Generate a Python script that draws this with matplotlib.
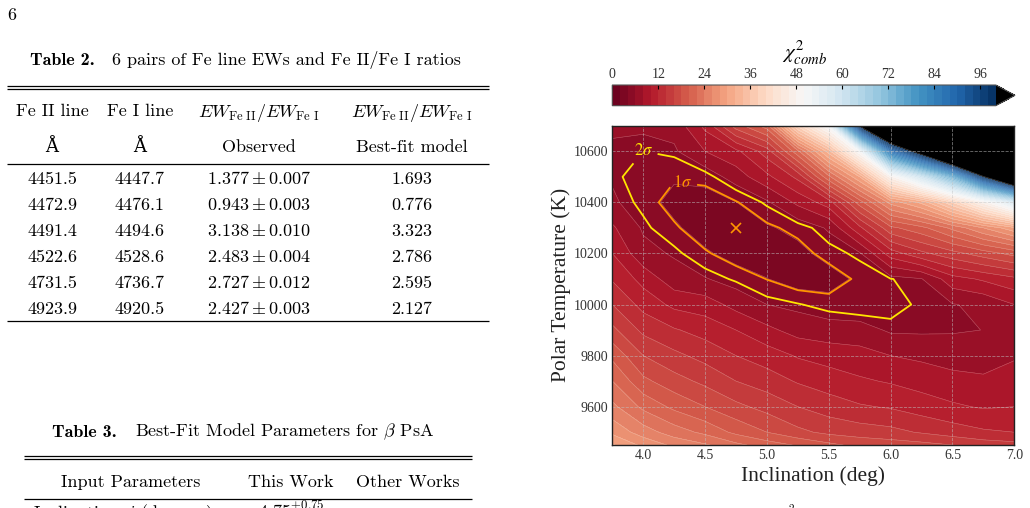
import numpy as np
import matplotlib
matplotlib.use('Agg')
import matplotlib.pyplot as plt

plt.rcParams['font.family'] = 'Liberation Serif'
plt.rcParams['mathtext.fontset'] = 'stix'

# Table 2: Fe line pairs
fe2_line = ['4451.5', '4472.9', '4491.4', '4522.6', '4731.5', '4923.9']
fe1_line = ['4447.7', '4476.1', '4494.6', '4528.6', '4736.7', '4920.5']
ratio_obs = [1.377, 0.943, 3.138, 2.483, 2.727, 2.427]
ratio_err = [0.007, 0.003, 0.010, 0.004, 0.012, 0.003]
ratio_model = [1.693, 0.776, 3.323, 2.786, 2.595, 2.127]

# Table 3 header
table3_cols = ['Input Parameters', 'This Work', 'Other Works']

# chi2 grid: rows = polar temperature, columns = inclination
incl = [3.75, 4.0, 4.25, 4.5, 4.75, 5.0, 5.25, 5.5, 5.75, 6.0, 6.25, 6.5, 6.75, 7.0]
temp = [9400, 9500, 9600, 9700, 9800, 9900, 10000, 10100, 10200, 10300,
        10400, 10500, 10600, 10700, 10800]
chi2 = [
    [33, 30, 28, 27, 25.5, 24, 23, 21.5, 20, 19.5, 19.5, 19, 18, 17.4],
    [27.5, 25, 23, 21.5, 19.5, 18, 16.5, 15.5, 15, 14.6, 13.8, 13, 12.3, 12],
    [24.5, 21.5, 19.5, 18, 16.5, 15.3, 14, 13, 12.2, 11.8, 11, 10.3, 9.8, 10],
    [22, 18.5, 16.8, 15.5, 14, 13, 11.8, 11, 10.3, 9.8, 9.2, 8.6, 8.3, 8.8],
    [19.5, 16, 14.5, 13.3, 12, 11, 9.8, 9.2, 8.7, 8.0, 7.6, 7.2, 7.2, 7.8],
    [16.5, 13.5, 12.2, 11.2, 10, 8.5, 7.2, 6.8, 6.84, 5.71, 5.7, 5.8, 6.02, 7.0],
    [14, 11.3, 9.5, 9.0, 7.3, 6.0, 5.5, 4.88, 4.4, 5.0, 5.6, 5.9, 6.4, 8.0],
    [11.8, 9.3, 6.85, 6.13, 5.17, 4.05, 3.0, 3.0, 4.5, 5.35, 5.9, 9.2, 10.3, 11.5],
    [10, 6.6, 5.79, 4.35, 3.07, 2.8, 3.3, 4.83, 5.77, 11, 13.5, 15.3, 17, 18.7],
    [8.3, 5.75, 4.4, 2.8, 2.6, 3.7, 4.68, 6.25, 11.5, 17.5, 19.4, 22.5, 26, 29.5],
    [6.3, 5.0, 3.2, 2.9, 3.95, 5.7, 8.5, 11, 19, 26.7, 30.5, 38, 47, 57],
    [5.8, 4.6, 4.33, 4.75, 6.95, 9.5, 12.5, 21.5, 30, 47, 59, 74, 99, 123],
    [5.7, 5.4, 5.72, 8.0, 9.5, 13, 21.5, 33, 50, 87, 106, 130, 160, 190],
    [6.3, 6.3, 6.65, 10.5, 17, 21, 38.6, 51, 101, 130, 150, 180, 210, 240],
    [7.5, 8.0, 8.5, 14, 25, 32, 53, 75, 150, 170, 190, 220, 250, 280],
]
sigma_levels = [4.1, 5.4]   # 1 sigma, 2 sigma
best_fit = (4.75, 10300)

W, H = 1030, 508
fig = plt.figure(figsize=(W / 100, H / 100), dpi=100)

# page layer in pixel coordinates for the tables
page = fig.add_axes([0, 0, 1, 1], zorder=-1)
page.set_xlim(0, W)
page.set_ylim(H, 0)
page.axis('off')

cm = dict(fontfamily=['cmr10', 'DejaVu Serif'], math_fontfamily='cm',
          fontsize=13, color='black', va='baseline')
cmb = dict(cm, fontfamily='cmb10')

def rule(x0, x1, y):
    page.plot([x0, x1], [y, y], color='black', lw=0.9, solid_capstyle='butt')

page.text(7.5, 20, '6', ha='left', **cm)

# Table 2
page.text(30, 65, 'Table 2.', ha='left', **cmb)
page.text(111.7, 65, '6 pairs of Fe line EWs and Fe II/Fe I ratios', ha='left', **cm)
rule(7, 489, 86)
rule(7, 489, 89.3)
cols = [52, 139.7, 258.7, 411.5]
ew = r'$EW_{\rm Fe\ II}/EW_{\rm Fe\ I}$'
for x, s in zip(cols, ['Fe II line', 'Fe I line', ew, ew]):
    page.text(x, 116.5, s, ha='center', **cm)
for x, s in zip(cols, ['Å', 'Å', 'Observed', 'Best-fit model']):
    page.text(x, 152, s, ha='center', **cm)
rule(7, 489, 164)
for k in range(len(fe2_line)):
    yb = 184.3 + 26 * k
    page.text(cols[0], yb, fe2_line[k], ha='center', **cm)
    page.text(cols[1], yb, fe1_line[k], ha='center', **cm)
    page.text(cols[2], yb, rf'${ratio_obs[k]:.3f} \pm {ratio_err[k]:.3f}$', ha='center', **cm)
    page.text(cols[3], yb, f'{ratio_model[k]:.3f}', ha='center', **cm)
rule(7, 489, 321)

# Table 3 (cut by the page edge)
page.text(51.7, 436.7, 'Table 3.', ha='left', **cmb)
page.text(135, 436.7, r'Best-Fit Model Parameters for $\beta$ PsA', ha='left', **cm)
rule(24, 471.7, 456)
rule(24, 471.7, 459.3)
for x, s in zip([130.5, 290.8, 408], table3_cols):
    page.text(x, 487.3, s, ha='center', **cm)
rule(24, 471.7, 499)
page.text(33, 518, r'Inclination, $i$ (degrees)', ha='left', **cm)
page.text(258, 518, r'$4.75^{+0.75}_{-0.50}$', ha='left', **cm)
page.text(791, 512, '2', ha='center', **dict(cm, fontsize=8))

# chi2 map
X, Y = np.meshgrid(incl, temp)
Z = np.array(chi2)
levels = np.arange(0, 101, 2)
cmap = matplotlib.colormaps['RdBu'].copy()
cmap.set_over('black')

ax = fig.add_axes([612.3 / W, 1 - 445 / H, 402 / W, 319.3 / H])
cf = ax.contourf(X, Y, Z, levels=levels, cmap=cmap, extend='max')
ax.contour(X, Y, Z, levels=levels, colors='white', linewidths=0.4, alpha=0.3)

cs2 = ax.contour(X, Y, Z, levels=[sigma_levels[1]], colors='#ffe600', linewidths=1.3)
cs1 = ax.contour(X, Y, Z, levels=[sigma_levels[0]], colors='#ff9500', linewidths=1.3)
lab2 = ax.clabel(cs2, fmt={sigma_levels[1]: r'$2\sigma$'}, manual=[(4.0, 10605)],
                 inline=True, fontsize=12)
lab1 = ax.clabel(cs1, fmt={sigma_levels[0]: r'$1\sigma$'}, manual=[(4.32, 10485)],
                 inline=True, fontsize=12)
for t in list(lab1) + list(lab2):
    t.set_rotation(0)
ax.plot(best_fit[0], best_fit[1], marker='x', color='#ff9500', ms=7, mew=1.2)

ax.set_xlim(3.75, 7.0)
ax.set_ylim(9450, 10700)
ax.set_xticks(np.arange(4.0, 7.01, 0.5))
ax.set_yticks(np.arange(9600, 10601, 200))
ax.grid(True, color='0.75', linestyle='--', linewidth=0.6, alpha=0.6)
ax.tick_params(length=0, labelsize=10, labelcolor='#333333', pad=3)
for sp in ax.spines.values():
    sp.set_color('#222222')
    sp.set_linewidth(1.0)
ax.set_xlabel('Inclination (deg)', fontsize=15.5, color='#222222', labelpad=3)
ax.set_ylabel('Polar Temperature (K)', fontsize=15.5, color='#222222', labelpad=2)

# colorbar on top
cax = fig.add_axes([612.3 / W, 1 - 105.7 / H, 402.7 / W, 20.7 / H])
cb = fig.colorbar(cf, cax=cax, orientation='horizontal', ticks=np.arange(0, 97, 12))
cb.ax.xaxis.set_ticks_position('top')
cb.ax.xaxis.set_label_position('top')
cb.ax.tick_params(direction='in', length=3, labelsize=10, labelcolor='#333333', pad=3)
cb.outline.set_edgecolor('#555555')
cb.outline.set_linewidth(0.8)
cb.set_label(r'$\chi^2_{comb}$', fontsize=15, labelpad=6)

fig.savefig('out.png', dpi=100)
